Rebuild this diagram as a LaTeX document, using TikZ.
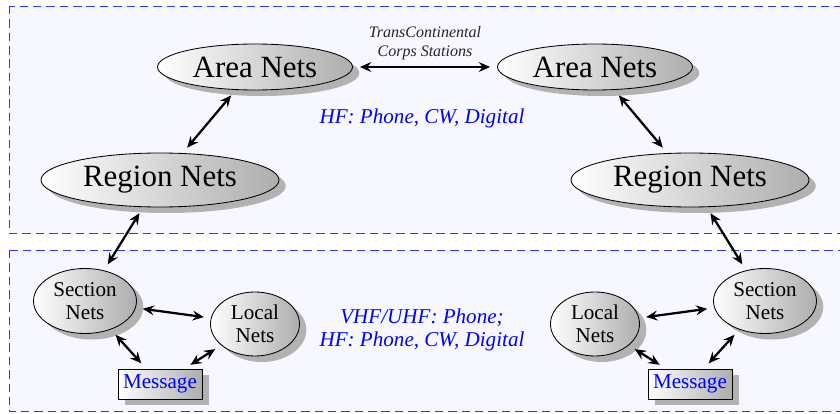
\documentclass[tikz,border=0pt]{standalone}
\usepackage{fontspec}
\setmainfont{Liberation Serif}
\usetikzlibrary{shapes.geometric,shadows,arrows.meta}

\begin{document}
\begin{tikzpicture}[
		panel/.style={draw=blue!80,fill=blue!3,dash pattern=on 6pt off 3.5pt,line width=0.7pt},
		net/.style={ellipse,draw,line width=0.6pt,left color=white,right color=black!32,inner sep=0pt,
			drop shadow={shadow xshift=0.17cm,shadow yshift=-0.15cm,fill=black!30,opacity=1}},
		bignet/.style={net,font=\fontsize{22}{24}\selectfont},
		smallnet/.style={net,align=center,font=\fontsize{15}{16.5}\selectfont},
		msgbox/.style={rectangle,draw,line width=0.6pt,left color=white,right color=black!32,inner sep=0pt,
			minimum width=2.1cm,minimum height=0.75cm,text=blue,font=\fontsize{15}{16.5}\selectfont,
			drop shadow={shadow xshift=0.17cm,shadow yshift=-0.15cm,fill=black!30,opacity=1}},
		link/.style={{Stealth[length=8pt,width=7pt,inset=2.8pt]}-{Stealth[length=8pt,width=7pt,inset=2.8pt]},
			line width=1.6pt,shorten <=5pt,shorten >=5pt},
		bandlabel/.style={text=blue,align=center,font=\itshape\fontsize{15}{16.5}\selectfont}
	]
				\clip (0,0) rectangle (21,10.325);
				% the two bands
				\draw [panel] (0.225,10.175) rectangle (21.5,4.5);
				\draw [panel] (0.225,4.075) rectangle (21.5,0.03);

				\node [bignet,minimum width=4.875cm,minimum height=1.15cm] (areaL) at (6.375,8.65) {Area Nets};
				\node [bignet,minimum width=4.875cm,minimum height=1.15cm] (areaR) at (14.875,8.65) {Area Nets};
				\node [bignet,minimum width=5.95cm,minimum height=1.35cm] (regionL) at (4,5.825) {Region Nets};
				\node [bignet,minimum width=5.95cm,minimum height=1.35cm] (regionR) at (17.25,5.825) {Region Nets};

				\node [smallnet,minimum width=2.575cm,minimum height=1.625cm] (sectionL) at (2.125,2.8) {Section\\Nets};
				\node [smallnet,minimum width=2.225cm,minimum height=1.6cm] (localL) at (6.375,2.225) {Local\\Nets};
				\node [msgbox] (msgL) at (4,0.725) {Message};
				\node [smallnet,minimum width=2.225cm,minimum height=1.6cm] (localR) at (14.875,2.225) {Local\\Nets};
				\node [smallnet,minimum width=2.575cm,minimum height=1.625cm] (sectionR) at (19.125,2.8) {Section\\Nets};
				\node [msgbox] (msgR) at (17.25,0.725) {Message};

				\node [text=black!85,align=center,font=\itshape\fontsize{11.4}{13.5}\selectfont] (trans) at (10.625,9.25) {TransContinental\\Corps Stations};
				\node [bandlabel] (hf) at (10.55,7.375) {HF: Phone, CW, Digital};
				\node [bandlabel] (vhf) at (10.55,2.075) {VHF/UHF: Phone;\\HF: Phone, CW, Digital};

				\draw [link] (areaL) -- (areaR);
				\draw [link] (areaL) -- (regionL);
				\draw [link] (areaR) -- (regionR);
				\draw [link] (regionL) -- (sectionL);
				\draw [link] (regionR) -- (sectionR);
				\draw [link] (sectionL) -- (localL);
				\draw [link] (sectionL) -- (msgL);
				\draw [link] (localL) -- (msgL);
				\draw [link] (localR) -- (sectionR);
				\draw [link] (localR) -- (msgR);
				\draw [link] (sectionR) -- (msgR);
			\end{tikzpicture}
\end{document}
